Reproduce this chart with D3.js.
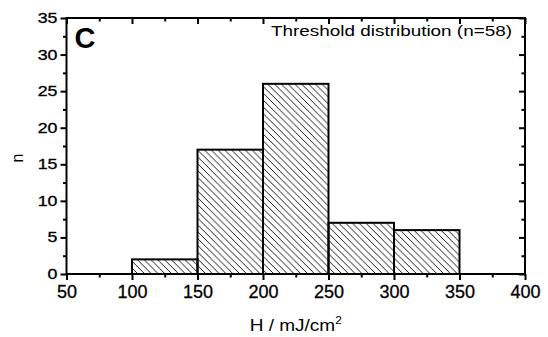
<!DOCTYPE html>
<html>
<head>
<meta charset="utf-8">
<script src="https://cdn.jsdelivr.net/npm/d3@7"></script>
<style>
  html, body { margin: 0; padding: 0; background: #fff; }
  svg { display: block; }
  text { font-family: "Liberation Sans", Arial, Helvetica, sans-serif; fill: #000; }
  .tick text { stroke: #000; stroke-width: 0.3px; }
</style>
</head>
<body>
<svg id="chart" width="548" height="337"></svg>
<script>
// Histogram bins (mJ/cm^2) and counts per bin
const binStarts = [100, 150, 200, 250, 300];
const binWidth = 50;
const counts = [2, 17, 26, 7, 6];
const xTicks = [50, 100, 150, 200, 250, 300, 350, 400];
const yTicks = [0, 5, 10, 15, 20, 25, 30, 35];
const panelLabel = "C";
const titleText = "Threshold distribution (n=58)";

const W = 548, H = 337;
const m = { left: 66.5, right: 23, top: 18, bottom: 63 };

const svg = d3.select("#chart");

const x = d3.scaleLinear().domain([50, 400]).range([m.left, W - m.right]);
const y = d3.scaleLinear().domain([0, 35]).range([H - m.bottom, m.top]);

// diagonal hatch fill
const hs = 6.8;
const defs = svg.append("defs");
const pat = defs.append("pattern")
  .attr("id", "hatch")
  .attr("patternUnits", "userSpaceOnUse")
  .attr("width", hs).attr("height", hs);
pat.append("path")
  .attr("d", `M-1,-1 L${hs + 1},${hs + 1} M${-hs / 2},${hs / 2} L${hs / 2},${hs * 1.5} M${hs / 2},${-hs / 2} L${hs * 1.5},${hs / 2}`)
  .attr("stroke", "#000").attr("stroke-width", 0.9).attr("fill", "none");

// bars
svg.append("g").selectAll("rect")
  .data(binStarts.map((s, i) => ({ s, c: counts[i] })))
  .join("rect")
  .attr("x", d => x(d.s))
  .attr("width", d => x(d.s + binWidth) - x(d.s))
  .attr("y", d => y(d.c))
  .attr("height", d => y(0) - y(d.c))
  .attr("fill", "url(#hatch)")
  .attr("stroke", "#000")
  .attr("stroke-width", 2);

// minor tick positions
const xMinor = d3.range(75, 400, 50);
const yMinor = d3.range(2.5, 35, 5);

function styleAxis(g) {
  g.select(".domain").remove();
  g.selectAll(".tick line").attr("stroke", "#000").attr("stroke-width", 2);
}

// bottom axis (outward ticks, labelled)
const gb = svg.append("g").attr("transform", `translate(0,${y(0)})`)
  .call(d3.axisBottom(x).tickValues(xTicks).tickSize(6).tickPadding(5));
styleAxis(gb);
gb.selectAll(".tick text").style("font-size", "18px");
svg.append("g").attr("transform", `translate(0,${y(0)})`)
  .call(d3.axisBottom(x).tickValues(xMinor).tickSize(3.5).tickFormat(""))
  .call(styleAxis);

// left axis (outward ticks, labelled)
const gl = svg.append("g").attr("transform", `translate(${x(50)},0)`)
  .call(d3.axisLeft(y).tickValues(yTicks).tickSize(6));
styleAxis(gl);
gl.selectAll(".tick text")
  .style("font-size", "14px")
  .attr("x", 0)
  .attr("transform", "translate(-9,0) scale(1.27,1)");
svg.append("g").attr("transform", `translate(${x(50)},0)`)
  .call(d3.axisLeft(y).tickValues(yMinor).tickSize(3.5).tickFormat(""))
  .call(styleAxis);

// top axis (inward ticks)
svg.append("g").attr("transform", `translate(0,${y(35)})`)
  .call(d3.axisTop(x).tickValues(xTicks).tickSize(-6).tickFormat(""))
  .call(styleAxis);
svg.append("g").attr("transform", `translate(0,${y(35)})`)
  .call(d3.axisTop(x).tickValues(xMinor).tickSize(-3.5).tickFormat(""))
  .call(styleAxis);

// right axis (inward ticks)
svg.append("g").attr("transform", `translate(${x(400)},0)`)
  .call(d3.axisRight(y).tickValues(yTicks).tickSize(-6).tickFormat(""))
  .call(styleAxis);
svg.append("g").attr("transform", `translate(${x(400)},0)`)
  .call(d3.axisRight(y).tickValues(yMinor).tickSize(-3.5).tickFormat(""))
  .call(styleAxis);

// frame
svg.append("rect")
  .attr("x", x(50)).attr("y", y(35))
  .attr("width", x(400) - x(50)).attr("height", y(0) - y(35))
  .attr("fill", "none").attr("stroke", "#000").attr("stroke-width", 2);

// panel label
svg.append("text")
  .attr("x", x(50) + 8).attr("y", y(35) + 30)
  .style("font-size", "29px").style("font-weight", "bold")
  .text(panelLabel);

// title inside the frame
svg.append("text")
  .attr("x", x(400) - 13).attr("y", y(35) + 17.5)
  .attr("text-anchor", "end")
  .attr("textLength", 241).attr("lengthAdjust", "spacingAndGlyphs")
  .style("font-size", "15px")
  .text(titleText);

// axis titles
const xt = svg.append("text")
  .attr("x", (x(50) + x(400)) / 2).attr("y", 331)
  .attr("text-anchor", "middle")
  .attr("textLength", 92).attr("lengthAdjust", "spacingAndGlyphs")
  .style("font-size", "16px");
xt.append("tspan").text("H / mJ/cm");
xt.append("tspan").attr("dy", -7).style("font-size", "10px").text("2");

svg.append("text")
  .attr("transform", `translate(23,${(y(0) + y(35)) / 2 + 12}) rotate(-90)`)
  .attr("text-anchor", "middle")
  .style("font-size", "16px")
  .text("n");
</script>
</body>
</html>
